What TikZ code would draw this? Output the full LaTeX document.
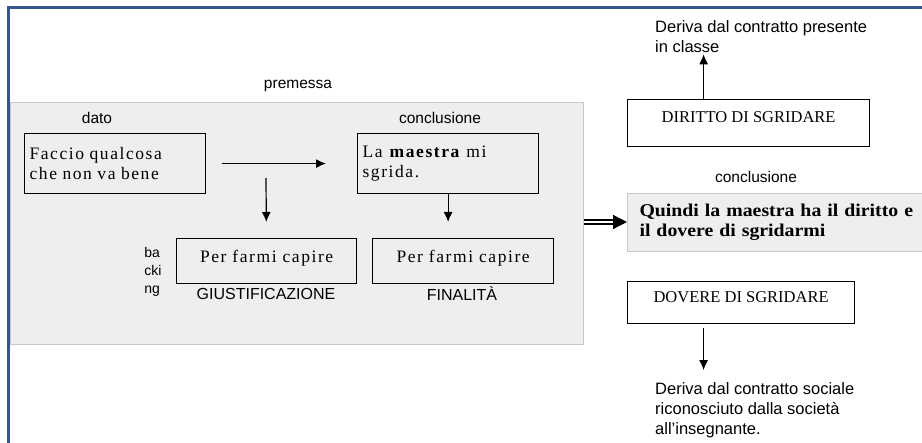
\documentclass[tikz,border=0pt]{standalone}
\usepackage{fontspec}
\setmainfont{Liberation Serif}
\setsansfont{Liberation Sans}
\newfontfamily\spacedrm[LetterSpace=9]{Liberation Serif}
\newfontfamily\widebf[FakeStretch=1.1]{Liberation Serif}
\usetikzlibrary{arrows,arrows.meta}

\begin{document}
\begin{tikzpicture}[>={Latex[length=10pt,width=9pt]}, x=1pt, y=-1pt]

\definecolor{frameblue}{RGB}{52,86,138}
\definecolor{premisegray}{RGB}{238,238,238}
\definecolor{premiseline}{RGB}{200,200,200}

\useasboundingbox (0,0) rectangle (922,443);

% Page frame
\draw[frameblue, line width=2.4pt] (922,7.5) -- (8.5,7.5) -- (8.5,443);

\tikzset{
    claim box/.style={
        draw=black, line width=1.2pt, rectangle, anchor=north west,
        inner xsep=5pt, inner ysep=4pt,
        font=\fontsize{16.5}{20}\selectfont
    },
    gray area/.style={
        draw=premiseline, fill=premisegray, line width=1pt,
        rectangle, anchor=north west
    },
    label/.style={
        font=\sffamily\fontsize{15.5}{19}\selectfont, inner sep=0pt
    },
    note/.style={
        font=\sffamily\fontsize{16.5}{20}\selectfont,
        align=left, anchor=west, inner sep=0pt
    },
    link/.style={->, line width=1.2pt}
}

% PREMESSA (gray area)
\node[gray area, minimum width=573, minimum height=242] (premise) at (10,102) {};
\node[label] (premessaLbl) at (298,86) {premessa};
\node[label] (datoLbl) at (97,118) {dato};
\node[label] (concLbl) at (440,118) {conclusione};

\node[claim box, minimum width=181, minimum height=60, text width=171, align=left] (fact) at (24,133)
    {\spacedrm\fontsize{17.5}{20}\selectfont Faccio qualcosa\\che non va bene};
\node[claim box, minimum width=181, minimum height=60, text width=171, align=left] (conc) at (357,133)
    {\spacedrm\fontsize{17.5}{20}\selectfont La \textbf{maestra} mi\\sgrida.};
\node[claim box, minimum width=180, minimum height=45, text height=20, text depth=17] (back) at (176,238)
    {\spacedrm\fontsize{17.5}{20}\selectfont Per farmi capire};
\node[claim box, minimum width=181, minimum height=45, text height=20, text depth=17] (final) at (372,238)
    {\spacedrm\fontsize{17.5}{20}\selectfont Per farmi capire};

\node[label, align=left, font=\sffamily\fontsize{14}{18}\selectfont] (backingLbl) at (153,272) {ba\\cki\\ng};
\node[label, font=\sffamily\fontsize{16}{19}\selectfont] (giustLbl) at (266,294) {GIUSTIFICAZIONE};
\node[label, font=\sffamily\fontsize{16}{19}\selectfont] (finLbl) at (462,294) {FINALITÀ};

% Premise links
\coordinate (warrant) at (266,178);
\draw[link, shorten <=16pt, shorten >=31pt] (fact) -- (conc);
\draw[link, shorten >=16pt] (warrant) -- (back);
\draw[link, shorten >=16pt] (conc.south) -- (conc.south |- final.north);

% CONCLUSIONE (right side)
\node[label] (concRightLbl) at (756,177) {conclusione};
\node[gray area, minimum width=294, minimum height=58, text width=300, align=left, inner xsep=12pt,
      font=\widebf\bfseries\fontsize{18}{20}\selectfont] (quindi) at (627,193)
    {Quindi la maestra ha il diritto e\\il dovere di sgridarmi};

\node[claim box, minimum width=242, minimum height=47, text height=19, text depth=20] (diritto) at (627,99)
    {DIRITTO DI SGRIDARE};
\node[claim box, minimum width=227, minimum height=42, text height=17, text depth=17] (dovere) at (627,281)
    {DOVERE DI SGRIDARE};

\node[note] (sourceTop) at (655,37) {Deriva dal contratto presente\\in classe};
\node[note] (sourceBottom) at (655,410) {Deriva dal contratto sociale\\riconosciuto dalla società\\all’insegnante.};

% Inference and sources
\draw[double, double distance=2.5pt, line width=1.3pt, -{Triangle[length=14pt,width=14pt]}] ([yshift=1.5pt]premise.east) -- ([yshift=1.5pt]premise.east -| quindi.west);
\draw[link, shorten >=1pt] ([xshift=-45pt]diritto.north) -- ([xshift=-45pt]diritto.north |- sourceTop.south);
\draw[link, shorten <=4pt, shorten >=12pt] ([xshift=-37.5pt]dovere.south) -- ([xshift=-37.5pt]dovere.south |- sourceBottom.north);

\end{tikzpicture}
\end{document}
